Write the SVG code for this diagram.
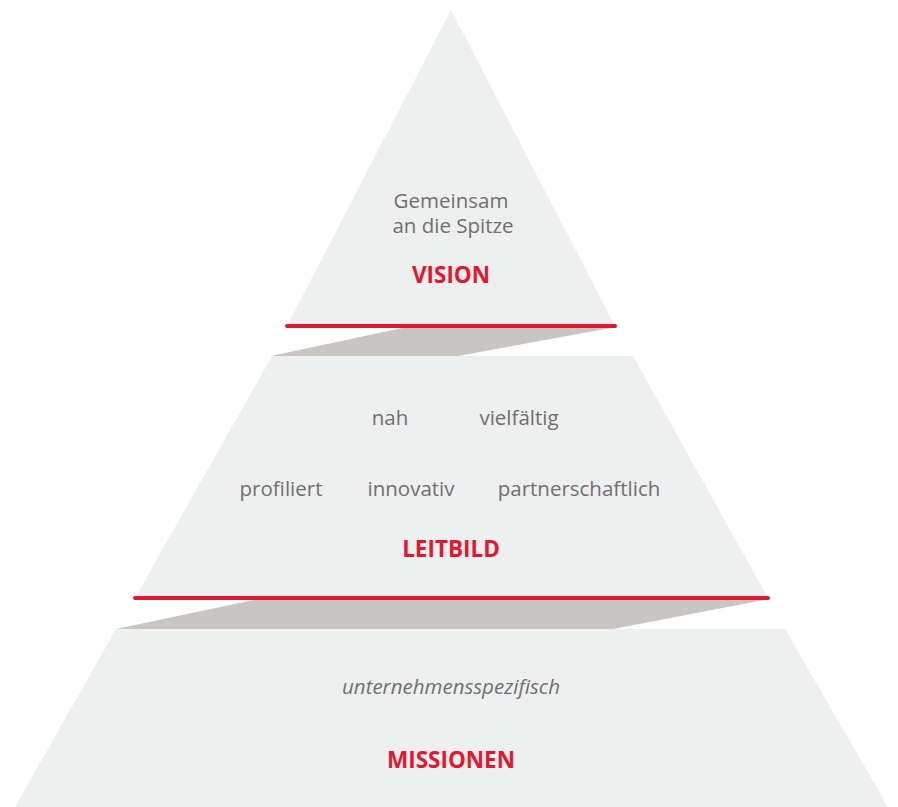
<svg xmlns="http://www.w3.org/2000/svg" width="898" height="807" viewBox="0 0 898 807">
<style>
.tier{fill:#eef0ef}
.band{fill:#c8c5c2}
.red{stroke:#e3172f;stroke-width:4;stroke-linecap:round;fill:none}
.t{font-family:"Open Sans","Noto Sans",sans-serif;font-size:20.5px;fill:#6f6f6f;text-anchor:middle}
.h{font-family:"Open Sans","Noto Sans",sans-serif;font-size:22.5px;font-weight:bold;fill:#e3172f;text-anchor:middle}
.i{font-style:italic}
</style>
<rect width="898" height="807" fill="#ffffff"/>
<g id="connectors">
<polygon class="band" points="407,327 616,327 458,356 271,356"/>
<polygon class="band" points="258,599 769,599 613,629 116,629"/>
</g>
<g id="vision">
<polygon class="tier" points="451,10 615,326 287,326"/>
<line class="red" x1="287" y1="326" x2="615" y2="326"/>
<text class="t" x="451" y="208">Gemeinsam</text>
<text class="t" x="453" y="233">an die Spitze</text>
<text class="h" x="451" y="283">VISION</text>
</g>
<g id="leitbild">
<polygon class="tier" points="272,356 633,356 768,598 135,598"/>
<line class="red" x1="135" y1="598" x2="768" y2="598"/>
<text class="t" x="390" y="425">nah</text>
<text class="t" x="519" y="425">vielfältig</text>
<text class="t" x="281" y="496">profiliert</text>
<text class="t" x="411" y="496">innovativ</text>
<text class="t" x="579" y="496">partnerschaftlich</text>
<text class="h" x="451" y="557">LEITBILD</text>
</g>
<g id="missionen">
<polygon class="tier" points="116,629 785,629 888,807 15,807"/>
<text class="t i" x="451" y="694">unternehmensspezifisch</text>
<text class="h" x="451" y="768">MISSIONEN</text>
</g>
</svg>
